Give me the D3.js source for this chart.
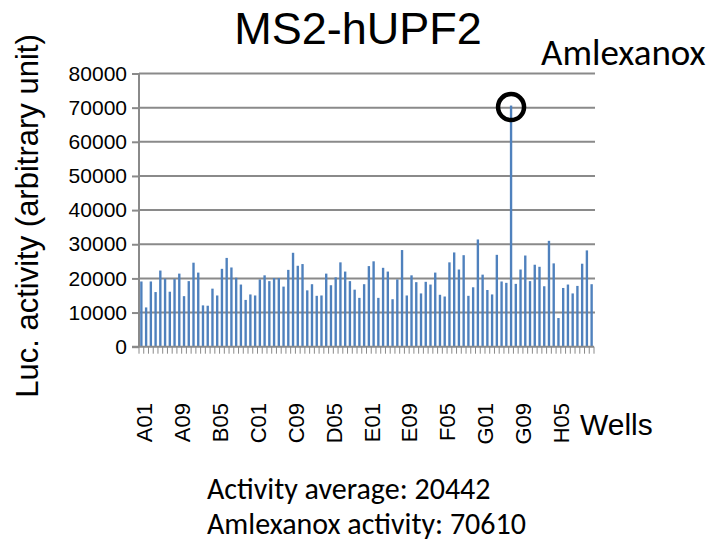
<!DOCTYPE html>
<html>
<head>
<meta charset="utf-8">
<script src="https://cdn.jsdelivr.net/npm/d3@7"></script>
<style>
  body { margin: 0; background: #fff; }
  text { fill: #000; }
  .arial { font-family: "Liberation Sans", Arial, sans-serif; }
  .calibri { font-family: Carlito, Calibri, Lato, sans-serif; }
</style>
</head>
<body>
<div id="chart"></div>
<script>
// Plate rows and columns (96 wells, A01..H12)
const rows = ["A", "B", "C", "D", "E", "F", "G", "H"];
const cols = ["01", "02", "03", "04", "05", "06", "07", "08", "09", "10", "11", "12"];
const wells = rows.flatMap((r) => cols.map((c) => r + c));

// Luciferase activity per well
const activity = [
  19100, 11500, 19100, 16000, 22300, 19900, 16100, 19800, 21400, 14800, 19200, 24600,
  21700, 12100, 12000, 17000, 15000, 22800, 26000, 23200, 20200, 18200, 13700, 15300,
  15000, 19700, 20900, 19200, 20100, 20100, 17600, 22500, 27500, 23700, 24200, 16500,
  18300, 14900, 15000, 21400, 18000, 20300, 24700, 22000, 19200, 16700, 14300, 18300,
  23600, 25000, 14300, 23100, 22000, 13900, 19700, 28300, 15000, 20900, 18900, 15600,
  19000, 18200, 21700, 15200, 14700, 24700, 27600, 22600, 26800, 14900, 17400, 31400,
  21100, 16600, 15300, 26900, 19100, 18700, 70610, 18400, 22600, 26700, 19200, 24000,
  23400, 17700, 31000, 24400, 8400, 17200, 18200, 15600, 17800, 24300, 28200, 18300
];

const yTicks = [0, 10000, 20000, 30000, 40000, 50000, 60000, 70000, 80000];
const xLabels = ["A01", "A09", "B05", "C01", "C09", "D05", "E01", "E09", "F05", "G01", "G09", "H05"];
const hitWell = "G07";
const notes = ["Activity average: 20442", "Amlexanox activity: 70610"];

const width = 723;
const height = 548;
const plot = { left: 139, right: 594, top: 73.5, bottom: 346.7 };

const svg = d3
  .select("#chart")
  .append("svg")
  .attr("width", width)
  .attr("height", height);

const x = d3
  .scaleBand()
  .domain(wells)
  .range([plot.left, plot.right])
  .paddingInner(0.5)
  .paddingOuter(0.25);

const y = d3.scaleLinear().domain([0, 80000]).range([plot.bottom, plot.top]);

// Gridlines
svg
  .append("g")
  .selectAll("line")
  .data(yTicks.slice(1))
  .enter()
  .append("line")
  .attr("x1", plot.left)
  .attr("x2", plot.right + 1)
  .attr("y1", (d) => y(d))
  .attr("y2", (d) => y(d))
  .attr("stroke", "#8a8a8a")
  .attr("stroke-width", 2);

// Bars
svg
  .append("g")
  .selectAll("rect")
  .data(wells)
  .enter()
  .append("rect")
  .attr("x", (d) => x(d))
  .attr("y", (d, i) => y(activity[i]))
  .attr("width", x.bandwidth())
  .attr("height", (d, i) => y(0) - y(activity[i]))
  .attr("fill", "#4f81bd");

// Y axis
const yAxis = svg
  .append("g")
  .attr("transform", `translate(${plot.left}, 0)`)
  .call(d3.axisLeft(y).tickValues(yTicks).tickSize(7).tickPadding(5).tickFormat(d3.format("d")));
yAxis.select(".domain").attr("stroke", "#8a8a8a").attr("stroke-width", 2).attr("d", `M0,${plot.top}V${plot.bottom}`);
yAxis.selectAll(".tick line").attr("stroke", "#8a8a8a").attr("stroke-width", 2);
yAxis
  .selectAll(".tick text")
  .attr("class", "arial")
  .style("font-size", "21px")
  .attr("fill", "#000");

// X axis: baseline plus a small tick at every well boundary
const bounds = wells.map((w) => x(w) - (x.step() * x.paddingInner()) / 2).concat([plot.right]);
const xAxis = svg.append("g");
xAxis
  .append("line")
  .attr("x1", plot.left - 7)
  .attr("x2", plot.right)
  .attr("y1", y(0))
  .attr("y2", y(0))
  .attr("stroke", "#8a8a8a")
  .attr("stroke-width", 2);
xAxis
  .selectAll(".minor")
  .data(bounds)
  .enter()
  .append("line")
  .attr("class", "minor")
  .attr("x1", (d) => d)
  .attr("x2", (d) => d)
  .attr("y1", y(0))
  .attr("y2", y(0) + 7)
  .attr("stroke", "#8a8a8a")
  .attr("stroke-width", 1);

xAxis
  .selectAll(".xlabel")
  .data(xLabels)
  .enter()
  .append("text")
  .attr("class", "arial")
  .attr("text-anchor", "end")
  .attr("dy", "0.35em")
  .attr("transform", (d) => `translate(${x(d) + x.bandwidth() / 2 + 3}, 403) rotate(-90)`)
  .style("font-size", "22px")
  .text((d) => d);

// Axis titles
svg
  .append("text")
  .attr("class", "arial")
  .attr("x", 580)
  .attr("y", 435)
  .style("font-size", "30px")
  .text("Wells");

svg
  .append("text")
  .attr("class", "arial")
  .attr("text-anchor", "middle")
  .attr("transform", "translate(38, 216) rotate(-90)")
  .style("font-size", "31px")
  .text("Luc. activity (arbitrary unit)");

// Title
svg
  .append("text")
  .attr("class", "arial")
  .attr("text-anchor", "middle")
  .attr("x", 358)
  .attr("y", 44)
  .style("font-size", "45px")
  .text("MS2-hUPF2");

// Hit annotation
const hitIndex = wells.indexOf(hitWell);
svg
  .append("circle")
  .attr("cx", x(hitWell) + x.bandwidth() / 2)
  .attr("cy", y(activity[hitIndex]) + 1.5)
  .attr("r", 13)
  .attr("fill", "none")
  .attr("stroke", "#000")
  .attr("stroke-width", 4.5);

svg
  .append("text")
  .attr("class", "calibri")
  .attr("x", 541)
  .attr("y", 65)
  .style("font-size", "37px")
  .text("Amlexanox");

// Notes under the chart
svg
  .append("g")
  .selectAll("text")
  .data(notes)
  .enter()
  .append("text")
  .attr("class", "calibri")
  .attr("x", 207)
  .attr("y", (d, i) => 499 + i * 35)
  .style("font-size", "30px")
  .text((d) => d);
</script>
</body>
</html>
